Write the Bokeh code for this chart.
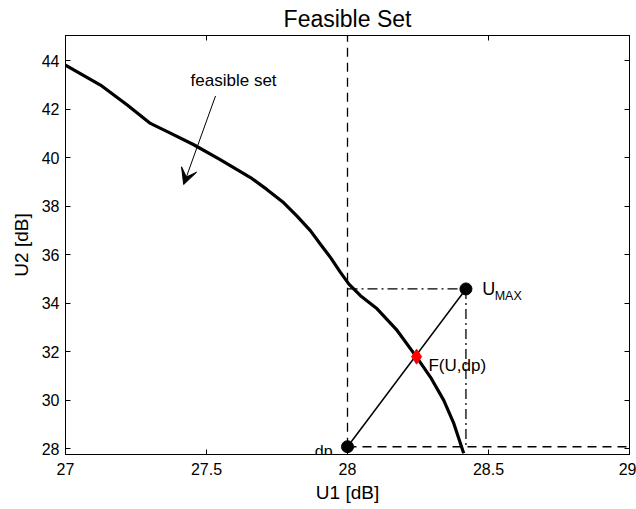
from bokeh.plotting import figure
from bokeh.models import Range1d, LinearAxis, FixedTicker, Arrow, VeeHead, CustomJSTickFormatter
from bokeh.embed import file_html
from bokeh.resources import INLINE
from bokeh.core.properties import value

# ---- data ----
curve_u1 = [27.000, 27.124, 27.219, 27.301, 27.361, 27.455, 27.550, 27.656, 27.715,
            27.774, 27.821, 27.869, 27.904, 27.940, 27.975, 28.005, 28.046, 28.105,
            28.176, 28.247, 28.294, 28.341, 28.377, 28.412]
curve_u2 = [43.81, 42.99, 42.17, 41.41, 41.07, 40.53, 39.91, 39.18, 38.68,
            38.14, 37.59, 36.98, 36.43, 35.88, 35.27, 34.79, 34.31, 33.77,
            32.88, 31.75, 30.96, 30.01, 29.05, 27.82]

dp_u1 = [28.0]
dp_u2 = [28.09]
umax_u1 = [28.42]
umax_u2 = [34.59]
f_u1 = [28.245]
f_u2 = [31.80]

arrow_from = (27.532, 42.54)
arrow_to = (27.419, 38.89)

x_ticks = [27, 27.5, 28, 28.5, 29]
y_ticks = [28, 30, 32, 34, 36, 38, 40, 42, 44]
x_lim = (27, 29)
y_lim = (27.77, 45.03)

title_text = "Feasible Set"

FONT = "Liberation Sans"

p = figure(width=636, height=509, output_backend="svg", toolbar_location=None,
           x_range=Range1d(*x_lim), y_range=Range1d(*y_lim),
           min_border_left=65, min_border_right=7, min_border_top=34, min_border_bottom=55)

p.title.text = title_text
p.title.align = "center"
p.title.text_font = FONT
p.title.text_font_size = "23px"
p.title.text_font_style = "normal"
p.title.text_color = "black"
p.title.standoff = 7
p.title.text_line_height = 1.0

p.grid.visible = False
p.outline_line_color = "black"
p.outline_line_width = 1
p.background_fill_color = "white"
p.border_fill_color = "white"

fmt = CustomJSTickFormatter(code="return String(tick);")
blank = CustomJSTickFormatter(code="return '';")

p.xaxis.ticker = FixedTicker(ticks=x_ticks)
p.yaxis.ticker = FixedTicker(ticks=y_ticks)
p.xaxis.formatter = fmt
p.yaxis.formatter = fmt
p.xaxis.axis_label = "U1 [dB]"
p.yaxis.axis_label = "U2 [dB]"
for ax in p.xaxis + p.yaxis:
    ax.major_tick_in = 5
    ax.major_tick_out = 0
    ax.minor_tick_in = 0
    ax.minor_tick_out = 0
    ax.axis_line_color = "black"
    ax.major_tick_line_color = "black"
    ax.major_label_text_font = FONT
    ax.major_label_text_font_size = "16px"
    ax.major_label_text_color = "black"
    ax.axis_label_text_font = FONT
    ax.axis_label_text_font_size = "19px"
    ax.axis_label_text_font_style = "normal"
    ax.axis_label_text_color = "black"
p.xaxis.major_label_standoff = 8
p.yaxis.major_label_standoff = 6
p.xaxis.axis_label_standoff = 4
p.yaxis.axis_label_standoff = 7

right_ax = LinearAxis(ticker=FixedTicker(ticks=y_ticks), formatter=blank,
                      major_tick_in=5, major_tick_out=0, minor_tick_in=0, minor_tick_out=0,
                      major_label_standoff=0, axis_line_color="black")
top_ax = LinearAxis(ticker=FixedTicker(ticks=x_ticks), formatter=blank,
                    major_tick_in=5, major_tick_out=0, minor_tick_in=0, minor_tick_out=0,
                    major_label_standoff=0, axis_line_color="black")
p.add_layout(right_ax, "right")
p.add_layout(top_ax, "above")

# guide lines
p.line([dp_u1[0], dp_u1[0]], [dp_u2[0], y_lim[1]], color="black", line_width=1.3, line_dash="9 6")
p.line([dp_u1[0], x_lim[1]], [dp_u2[0], dp_u2[0]], color="black", line_width=1.3, line_dash="9 6")
p.line([dp_u1[0], umax_u1[0]], [umax_u2[0], umax_u2[0]], color="black", line_width=1.3, line_dash="10 4 2 4")
p.line([umax_u1[0], umax_u1[0]], [umax_u2[0], dp_u2[0]], color="black", line_width=1.3, line_dash="10 4 2 4")

# feasible set boundary
p.line(curve_u1, curve_u2, color="black", line_width=3.2, line_join="round")

# segment dp -> U_MAX
p.line(dp_u1 + umax_u1, dp_u2 + umax_u2, color="black", line_width=1.5)

p.scatter(dp_u1 + umax_u1, dp_u2 + umax_u2, size=12, color="black")
p.scatter(f_u1, f_u2, marker="diamond", size=15, color="red")

# annotations
p.add_layout(Arrow(end=VeeHead(size=16, fill_color="black", line_color="black"),
                   x_start=arrow_from[0], y_start=arrow_from[1],
                   x_end=arrow_to[0], y_end=arrow_to[1], line_width=1, line_color="black"))

p.text(x=[27.596], y=[43.19], text=["feasible set"], text_font=value(FONT),
       text_font_size="17px", text_align="center", text_baseline="alphabetic", text_color="black")
p.text(x=[28.478], y=[34.59], text=["U"], text_font=value(FONT),
       text_font_size="18px", text_align="left", text_baseline="alphabetic", text_color="black")
p.text(x=[28.522], y=[34.31], text=["MAX"], text_font=value(FONT),
       text_font_size="12.5px", text_align="left", text_baseline="alphabetic", text_color="black")
p.text(x=[28.287], y=[31.44], text=["F(U,dp)"], text_font=value(FONT),
       text_font_size="17px", text_align="left", text_baseline="alphabetic", text_color="black")
p.text(x=[27.947], y=[27.89], text=["dp"], text_font=value(FONT),
       text_font_size="16px", text_align="right", text_baseline="alphabetic", text_color="black")

open("out.html", "w").write(file_html(p, INLINE))
